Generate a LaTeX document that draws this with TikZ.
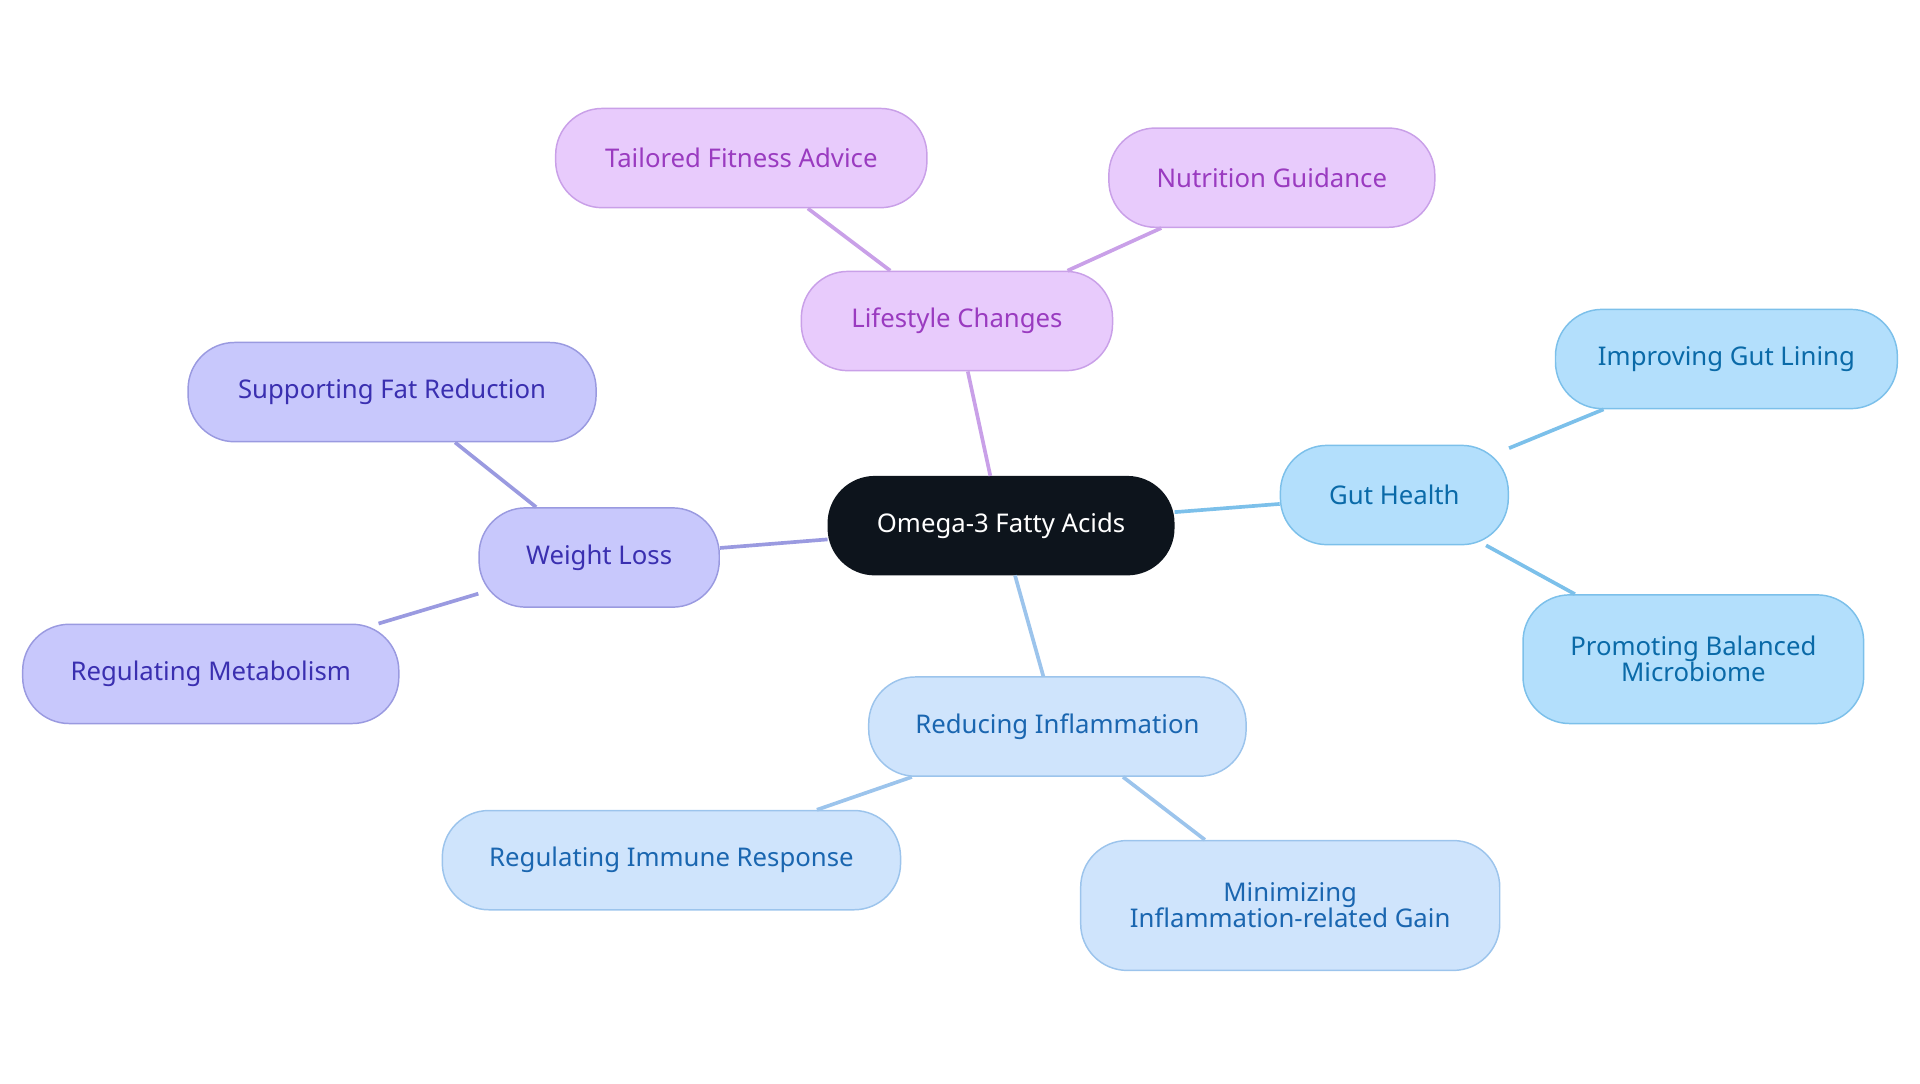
\documentclass[tikz,border=0pt]{standalone}
\usepackage{fontspec}
\setmainfont{Noto Sans}
\definecolor{rootfill}{HTML}{0D141C}
\definecolor{lsfill}{HTML}{E8CBFC}\definecolor{lsdraw}{HTML}{C9A0E8}\definecolor{lstext}{HTML}{9A3BC0}
\definecolor{wlfill}{HTML}{C8C8FC}\definecolor{wldraw}{HTML}{9A9AE0}\definecolor{wltext}{HTML}{3A2FB0}
\definecolor{ghfill}{HTML}{B3DFFC}\definecolor{ghdraw}{HTML}{7CC0EA}\definecolor{ghtext}{HTML}{0A6AA8}
\definecolor{rifill}{HTML}{CFE4FC}\definecolor{ridraw}{HTML}{9CC4EC}\definecolor{ritext}{HTML}{1A66B0}
\tikzset{
  pill/.style={rounded corners=38pt, draw, line width=1.2pt, align=center,
    minimum height=81pt, inner sep=0pt, font=\fontsize{21}{25}\selectfont},
  lifestyle/.style={pill, fill=lsfill, draw=lsdraw, text=lstext},
  weight/.style={pill, fill=wlfill, draw=wldraw, text=wltext},
  gut/.style={pill, fill=ghfill, draw=ghdraw, text=ghtext},
  inflam/.style={pill, fill=rifill, draw=ridraw, text=ritext},
  link/.style={line width=3pt}
}
\begin{document}
\begin{tikzpicture}[x=1pt,y=-1pt]
  \useasboundingbox (0,0) rectangle (1567,884);
  % main topic
  \node[pill, fill=rootfill, draw=rootfill, text=white, minimum width=282pt, minimum height=80pt] (omega) at (817,429) {Omega-3 Fatty Acids};

  % lifestyle
  \node[lifestyle, minimum width=254pt] (lifestyle) at (781,262) {Lifestyle Changes};
  \node[lifestyle, minimum width=303pt] (fitness) at (605,129) {Tailored Fitness Advice};
  \node[lifestyle, minimum width=266pt] (nutrition) at (1038,145) {Nutrition Guidance};

  % weight
  \node[weight, minimum width=196pt] (weight) at (489,455) {Weight Loss};
  \node[weight, minimum width=333pt] (fat) at (320,320) {Supporting Fat Reduction};
  \node[weight, minimum width=307pt] (metab) at (172,550) {Regulating Metabolism};

  % gut
  \node[gut, minimum width=186pt] (gut) at (1138,404) {Gut Health};
  \node[gut, minimum width=279pt] (lining) at (1409,293) {Improving Gut Lining};
  \node[gut, minimum width=278pt, minimum height=105pt] (microbiome) at (1382,538) {Promoting Balanced\\[-4pt]Microbiome};

  % inflammation
  \node[inflam, minimum width=308pt] (inflam) at (863,593) {Reducing Inflammation};
  \node[inflam, minimum width=374pt] (immune) at (548,702) {Regulating Immune Response};
  \node[inflam, minimum width=342pt, minimum height=106pt] (gain) at (1053,739) {Minimizing\\[-4pt]Inflammation-related Gain};

  \begin{scope}[on background layer/.style={}]
  \end{scope}
  \draw[link, lsdraw] (omega) -- (lifestyle);
  \draw[link, lsdraw] (lifestyle) -- (fitness);
  \draw[link, lsdraw] (lifestyle) -- (nutrition);
  \draw[link, wldraw] (omega) -- (weight);
  \draw[link, wldraw] (weight) -- (fat);
  \draw[link, wldraw] (weight) -- (metab);
  \draw[link, ghdraw] (omega) -- (gut);
  \draw[link, ghdraw] (gut) -- (lining);
  \draw[link, ghdraw] (gut) -- (microbiome);
  \draw[link, ridraw] (omega) -- (inflam);
  \draw[link, ridraw] (inflam) -- (immune);
  \draw[link, ridraw] (inflam) -- (gain);
\end{tikzpicture}
\end{document}
